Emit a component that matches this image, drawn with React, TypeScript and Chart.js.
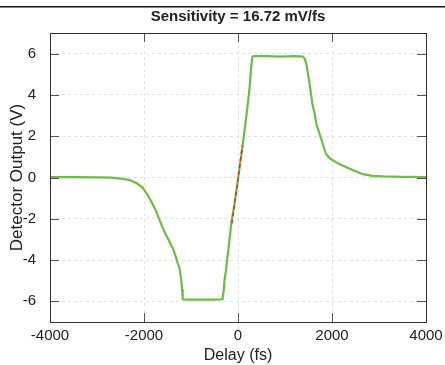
import React, { useEffect, useRef } from "react";
import { Chart, registerables } from "chart.js";

Chart.register(...registerables);

const delayFs = [
  -4000, -3500, -3000, -2700, -2500, -2300, -2150, -2030, -1920, -1817, -1744, -1680, -1603, -1540,
  -1480, -1420, -1390, -1330, -1290, -1247, -1210, -1190, -1177, -1100, -800, -500, -330, -300,
  -288, -250, -217, -180, -145, -110, -75, -38, 0, 40, 102, 140, 175, 210, 245, 275, 303, 330,
  600, 900, 1200, 1382, 1420, 1454, 1490, 1524, 1580, 1631, 1667, 1738, 1808, 1870, 1951, 2100,
  2235, 2450, 2661, 2850, 3087, 3500, 4000,
];
const detectorV = [
  0.02, 0.02, 0.01, -0.01, -0.05, -0.13, -0.28, -0.49, -0.85, -1.29, -1.62, -2.0, -2.43, -2.75,
  -3.0, -3.3, -3.4, -3.8, -4.1, -4.37, -4.9, -5.4, -5.9, -5.92, -5.92, -5.92, -5.9, -5.4,
  -5.0, -4.4, -3.72, -3.0, -2.26, -1.75, -1.29, -0.7, -0.1, 0.6, 1.62, 2.3, 2.91, 3.6, 4.3, 5.2, 5.83, 5.88,
  5.88, 5.86, 5.88, 5.86, 5.75, 5.5, 5.0, 4.53, 3.6, 3.08, 2.59, 2.1, 1.6, 1.15, 0.93, 0.72,
  0.57, 0.35, 0.16, 0.08, 0.05, 0.03, 0.02,
];
const fitX = [-130, 95];
const fitY = [-2.22, 1.54];

const xTicks = [-4000, -2000, 0, 2000, 4000];
const yTicks = [-6, -4, -2, 0, 2, 4, 6];

const titleText = "Sensitivity = 16.72 mV/fs";
const xTitle = "Delay (fs)";
const yTitle = "Detector Output (V)";

const FONT = "'Liberation Sans', Arial, Helvetica, sans-serif";

const boxPlugin = {
  id: "boxPlugin",
  afterDraw(chart: any) {
    const { ctx, chartArea } = chart;
    const { left, right, top, bottom } = chartArea;
    ctx.save();
    ctx.fillStyle = "#111";
    ctx.fillRect(0, 6, 445, 1.5);
    ctx.strokeStyle = "#555";
    ctx.lineWidth = 1;
    const tl = 9;
    const xs = chart.scales.x;
    const ys = chart.scales.y;
    ctx.beginPath();
    xTicks.forEach((v) => {
      const p = Math.round(xs.getPixelForValue(v)) + 0.5;
      ctx.moveTo(p, bottom);
      ctx.lineTo(p, bottom - tl);
      ctx.moveTo(p, top);
      ctx.lineTo(p, top + tl);
    });
    yTicks.forEach((v) => {
      const p = Math.round(ys.getPixelForValue(v)) + 0.5;
      ctx.moveTo(left, p);
      ctx.lineTo(left + tl, p);
      ctx.moveTo(right, p);
      ctx.lineTo(right - tl, p);
    });
    ctx.stroke();
    ctx.strokeStyle = "#333";
    ctx.lineWidth = 1;
    ctx.strokeRect(Math.round(left) + 0.5, Math.round(top) + 0.5, Math.round(right - left), Math.round(bottom - top));
    ctx.restore();
  },
};

export default function App() {
  const ref = useRef<HTMLCanvasElement | null>(null);
  useEffect(() => {
    if (!ref.current) return;
    const mainPts = delayFs.map((x, i) => ({ x, y: detectorV[i] }));
    const fitPts = fitX.map((x, i) => ({ x, y: fitY[i] }));
    const chart = new Chart(ref.current, {
      type: "line",
      data: {
        datasets: [
          {
            label: "fit",
            data: fitPts,
            borderColor: "rgb(228, 40, 40)",
            borderWidth: 1.5,
            borderDash: [4, 3],
            pointRadius: 0,
            order: 0,
          },
          {
            label: "signal",
            data: mainPts,
            borderColor: "rgb(106, 190, 64)",
            borderWidth: 2.2,
            pointRadius: 0,
            tension: 0,
            order: 1,
          },
        ],
      },
      plugins: [boxPlugin],
      options: {
        animation: false,
        responsive: false,
        devicePixelRatio: 1,
        layout: { padding: { left: 0, right: 19, top: 0, bottom: 0 } },
        plugins: {
          legend: { display: false },
          tooltip: { enabled: false },
          title: {
            display: true,
            text: titleText,
            fullSize: false,
            color: "#222",
            font: { family: FONT, size: 15, weight: "bold" },
            padding: { top: 8, bottom: 7 },
          },
        },
        scales: {
          x: {
            type: "linear",
            min: -4000,
            max: 4000,
            afterBuildTicks: (s: any) => {
              s.ticks = xTicks.map((v) => ({ value: v }));
            },
            afterFit: (s: any) => {
              s.height = 43;
              s.paddingRight = 0;
              s.paddingLeft = 0;
            },
            grid: { color: "#e2e2e2", drawTicks: false, lineWidth: 1 },
            border: { display: false, dash: [3, 3] },
            ticks: {
              color: "#222",
              font: { family: FONT, size: 15 },
              padding: 5,
              maxRotation: 0,
              autoSkip: false,
              callback: (v: any) => String(v),
            },
            title: {
              display: true,
              text: xTitle,
              color: "#222",
              font: { family: FONT, size: 16 },
              padding: { top: 0, bottom: 0 },
            },
          },
          y: {
            type: "linear",
            min: -7,
            max: 7,
            afterBuildTicks: (s: any) => {
              s.ticks = yTicks.map((v) => ({ value: v }));
            },
            afterFit: (s: any) => {
              s.width = 50;
              s.paddingTop = 0;
              s.paddingBottom = 0;
            },
            grid: { color: "#e2e2e2", drawTicks: false, lineWidth: 1 },
            border: { display: false, dash: [3, 3] },
            ticks: {
              color: "#222",
              font: { family: FONT, size: 15 },
              padding: 14,
              autoSkip: false,
              callback: (v: any) => String(v),
            },
            title: {
              display: true,
              text: yTitle,
              color: "#222",
              font: { family: FONT, size: 17 },
              padding: { top: 7, bottom: 0 },
            },
          },
        },
      },
    } as any);
    return () => chart.destroy();
  }, []);
  return (
    <div style={{ position: "absolute", left: 0, top: 0, width: 445, height: 365, background: "#fff" }}>
      <canvas ref={ref} width={445} height={365} style={{ display: "block" }} />
    </div>
  );
}
